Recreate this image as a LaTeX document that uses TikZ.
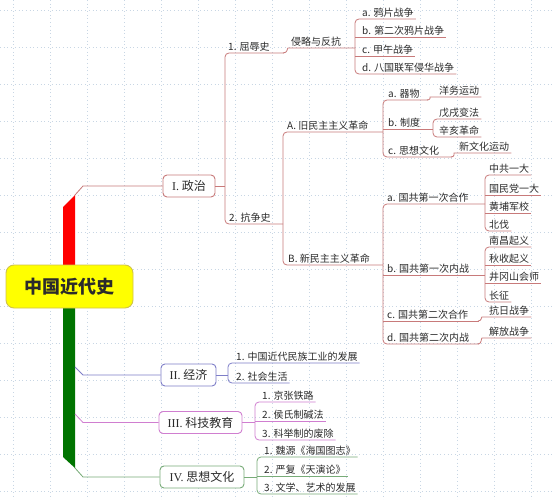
\documentclass[tikz,border=0pt]{standalone}
\usepackage{fontspec}
\setmainfont{Noto Sans CJK SC}
\newfontfamily\romanf{Liberation Serif}
\definecolor{txt}{HTML}{2B2B2B}
\definecolor{gridc}{HTML}{C8D6E4}
\definecolor{Ic}{HTML}{C87A7A}
\definecolor{IIc}{HTML}{7E7EC8}
\definecolor{IIIc}{HTML}{D07ED0}
\definecolor{IVc}{HTML}{78AC78}
\definecolor{trunkred}{HTML}{FF0000}
\definecolor{trunkgreen}{HTML}{007400}
\definecolor{rootfill}{HTML}{FFFF00}
\definecolor{rootbd}{HTML}{CFC24A}
\tikzset{
  leaf/.style={anchor=west, inner sep=0pt, font=\fontsize{10}{12}\selectfont, text=txt, text height=8.5pt, text depth=1.5pt},
  mainbox/.style={draw, rounded corners=4pt, fill=white, line width=0.9pt, minimum height=22pt, inner sep=0pt, font=\fontsize{12}{14}\selectfont, text=txt},
  conn/.style={line width=0.8pt, rounded corners=4pt},
  gridline/.style={gridc, line width=0.9pt, dash pattern=on 0.9pt off 2.8pt}
}
\begin{document}
\begin{tikzpicture}[x=1pt,y=-1pt]
\useasboundingbox (0,0) rectangle (552,500);
\fill[white] (0,0) rectangle (552,500);
% grid
\foreach \k in {0,...,13} \draw[gridline] (0,10+37*\k) -- (552,10+37*\k);
\foreach \k in {0,...,14} \draw[gridline] (13+37*\k,0) -- (13+37*\k,500);
% trunk
\fill[trunkred] (63,207) -- (75,195) -- (75,270) -- (63,270) -- cycle;
\fill[trunkgreen] (63,303) -- (75,303) -- (75,468) -- (63,457) -- cycle;
% root
\node[draw=rootbd, fill=rootfill, line width=0.9pt, rounded corners=8pt, minimum width=127pt, minimum height=43pt, inner sep=0pt, font=\fontsize{18}{20}\selectfont\bfseries, text=txt] (root) at (69.5,286.5) {中国近代史};
% main boxes
\node[mainbox, draw=Ic, minimum width=52pt] (I) at (189,186) {{\romanf I.} 政治};
\node[mainbox, draw=IIc, minimum width=55pt] (II) at (188.5,375) {{\romanf II.} 经济};
\node[mainbox, draw=IIIc, minimum width=83pt] (III) at (200.5,422.5) {{\romanf III.} 科技教育};
\node[mainbox, draw=IVc, minimum width=84pt] (IV) at (202,477) {{\romanf IV.} 思想文化};
% trunk connectors
\draw[Ic, line width=0.8pt] (75,195) -- (83,186) -- (I.west);
\draw[IIc, line width=0.8pt] (75,367) -- (83,375) -- (II.west);
\draw[IIIc, line width=0.8pt] (75,414) -- (83,422.5) -- (III.west);
\draw[IVc, line width=0.8pt] (75,468) -- (83,477) -- (IV.west);
% ---------- I leaves
\node[leaf] (t1) at (228,47) {1. 屈辱史};
\node[leaf] (t1a) at (291,42) {侵略与反抗};
\node[leaf] (a1) at (362,13) {a. 鸦片战争};
\node[leaf] (a2) at (362,31) {b. 第二次鸦片战争};
\node[leaf] (a3) at (362,50) {c. 甲午战争};
\node[leaf] (a4) at (362,68) {d. 八国联军侵华战争};
\node[leaf] (t2) at (229,218) {2. 抗争史};
\node[leaf] (A) at (287,126) {A. 旧民主主义革命};
\node[leaf] (B) at (288,259) {B. 新民主主义革命};
\node[leaf] (Aa) at (388,94) {a. 器物};
\node[leaf] (Aa1) at (439,91) {洋务运动};
\node[leaf] (Ab) at (388,123) {b. 制度};
\node[leaf] (Ab1) at (439,113) {戊戌变法};
\node[leaf] (Ab2) at (439,131) {辛亥革命};
\node[leaf] (Ac) at (388,151) {c. 思想文化};
\node[leaf] (Ac1) at (459,147) {新文化运动};
\node[leaf] (Ba) at (387,198) {a. 国共第一次合作};
\node[leaf] (Ba1) at (489,169) {中共一大};
\node[leaf] (Ba2) at (489,189) {国民党一大};
\node[leaf] (Ba3) at (489,207) {黄埔军校};
\node[leaf] (Ba4) at (489,225) {北伐};
\node[leaf] (Bb) at (387,269) {b. 国共第一次内战};
\node[leaf] (Bb1) at (489,241) {南昌起义};
\node[leaf] (Bb2) at (489,259) {秋收起义};
\node[leaf] (Bb3) at (489,277) {井冈山会师};
\node[leaf] (Bb4) at (489,296) {长征};
\node[leaf] (Bc) at (387,315) {c. 国共第二次合作};
\node[leaf] (Bc1) at (489,311) {抗日战争};
\node[leaf] (Bd) at (387,338) {d. 国共第二次内战};
\node[leaf] (Bd1) at (489,332) {解放战争};
% I connectors
\begin{scope}[Ic, conn]
\draw (I.east) -- (225,186);
\draw (284,53) -- (225,53) -- (225,224) -- (283,224);
\draw (283,53) .. controls (288,53) and (287,48) .. (292,48) -- (355,48);
\draw ([shift={(2,6)}]a1.east) -- (355,19) -- (355,74) -- ([shift={(2,6)}]a4.east);
\draw (355,37) -- ([shift={(2,6)}]a2.east);
\draw (355,56) -- ([shift={(2,6)}]a3.east);
\draw (383,132) -- (283,132) -- (283,265) -- (383,265);
\draw (428,100) -- (383,100) -- (383,157) -- (452,157);
\draw (427,100) .. controls (431,100) and (430,97) .. (434,97) -- ([shift={(2,6)}]Aa1.east);
\draw (383,129) -- (433,129);
\draw ([shift={(2,6)}]Ab1.east) -- (433,119) -- (433,137) -- ([shift={(2,6)}]Ab2.east);
\draw (451,157) .. controls (455,157) and (454,153) .. (458,153) -- ([shift={(2,6)}]Ac1.east);
\draw (485,204) -- (383,204) -- (383,344) -- (479,344);
\draw (478,344) .. controls (482,344) and (481,338) .. (486,338) -- ([shift={(2,6)}]Bd1.east);
\draw (383,275) -- (485,275);
\draw (383,321) -- (479,321);
\draw (478,321) .. controls (482,321) and (481,317) .. (486,317) -- ([shift={(2,6)}]Bc1.east);
\draw ([shift={(2,6)}]Ba1.east) -- (485,175) -- (485,231) -- ([shift={(2,6)}]Ba4.east);
\draw (485,195) -- ([shift={(2,6)}]Ba2.east);
\draw (485,213) -- ([shift={(2,6)}]Ba3.east);
\draw ([shift={(2,6)}]Bb1.east) -- (485,247) -- (485,302) -- ([shift={(2,6)}]Bb4.east);
\draw (485,265) -- ([shift={(2,6)}]Bb2.east);
\draw (485,283) -- ([shift={(2,6)}]Bb3.east);
\end{scope}
% ---------- II
\node[leaf] (e1) at (236,357) {1. 中国近代民族工业的发展};
\node[leaf] (e2) at (236,377) {2. 社会生活};
\begin{scope}[IIc, conn]
\draw (II.east) -- (228,375);
\draw ([shift={(2,6)}]e1.east) -- (228,363) -- (228,383) -- ([shift={(2,6)}]e2.east);
\end{scope}
% ---------- III
\node[leaf] (s1) at (262,396) {1. 京张铁路};
\node[leaf] (s2) at (262,415) {2. 侯氏制碱法};
\node[leaf] (s3) at (262,434) {3. 科举制的废除};
\begin{scope}[IIIc, conn]
\draw (III.east) -- (255,422.5);
\draw ([shift={(2,6)}]s1.east) -- (255,402) -- (255,440) -- ([shift={(2,6)}]s3.east);
\draw (255,421) -- ([shift={(2,6)}]s2.east);
\end{scope}
% ---------- IV
\node[leaf] (c1) at (264,451) {1. 魏源《海国图志》};
\node[leaf] (c2) at (264,470) {2. 严复《天演论》};
\node[leaf] (c3) at (264,488) {3. 文学、艺术的发展};
\begin{scope}[IVc, conn]
\draw (IV.east) -- (257,477);
\draw ([shift={(2,6)}]c1.east) -- (257,457) -- (257,494) -- ([shift={(2,6)}]c3.east);
\draw (257,476) -- ([shift={(2,6)}]c2.east);
\end{scope}
\end{tikzpicture}
\end{document}
